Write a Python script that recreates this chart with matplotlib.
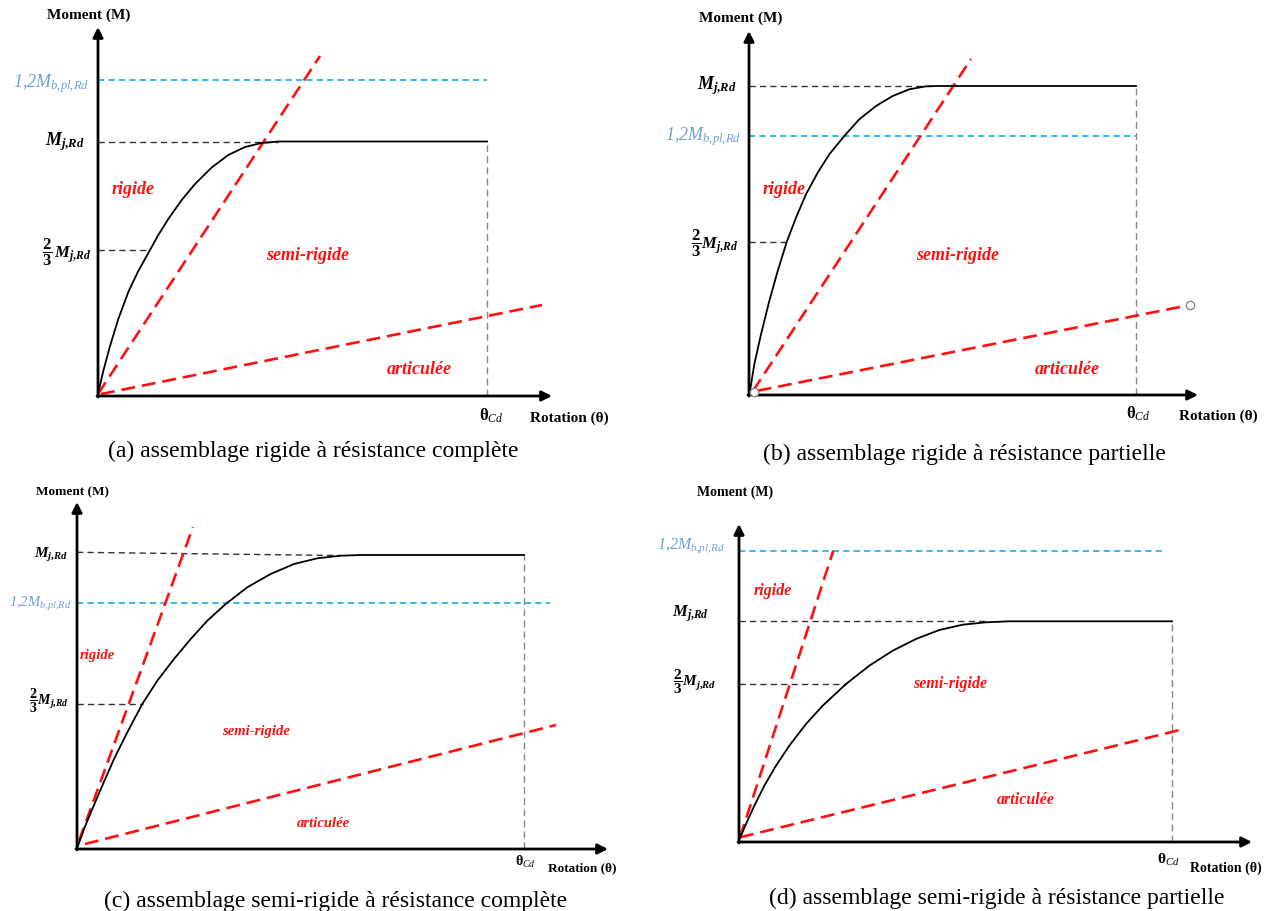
import matplotlib
matplotlib.use("Agg")
import matplotlib.pyplot as plt

plt.rcParams['mathtext.fontset'] = 'custom'
plt.rcParams['mathtext.rm'] = 'Liberation Serif:bold'
plt.rcParams['mathtext.it'] = 'Liberation Serif:bold:italic'
plt.rcParams['mathtext.sf'] = 'Liberation Serif:italic'
plt.rcParams['mathtext.bf'] = 'Liberation Serif:bold'
plt.rcParams['lines.scale_dashes'] = False

W, H = 1273, 912

# ---------------- data (rotation θ, moment M in schematic units) ----------------
# (a) rigid, full strength
a_theta = [0, 5.3, 12, 20.3, 30.3, 40.3, 52, 60.3, 70.3, 83.7, 97, 113.7, 130.3, 147, 163.7, 180.3, 389]
a_M = [2, 25, 50, 77, 104, 125, 146, 161, 177, 196, 212, 228.5, 241, 249, 253, 254.5, 254.5]
a_Mj = [254.5, 254.5]
a_Mj_theta = [0, 180]
a_two3 = 146
a_two3_theta = 52
a_blue = 316
a_blue_theta = 389
a_theta_cd = 389
a_rigid_theta, a_rigid_M = [0, 222], [2, 340]
a_artic_theta, a_artic_M = [3, 444], [2, 91]

# (b) rigid, partial strength
b_theta = [1, 5.3, 12, 20.3, 28.7, 37.7, 47, 57, 68.7, 80.3, 95.3, 110.3, 127, 143.7, 160.3, 177, 187, 387]
b_M = [4, 30.7, 60.7, 94, 124, 153, 177.3, 200.7, 222.3, 240.7, 259, 275.7, 289, 299, 305.7, 308.7, 309, 309]
b_Mj = [309, 309]
b_Mj_theta = [0, 182]
b_two3 = 153
b_two3_theta = 38
b_blue = 259
b_blue_theta = 387
b_theta_cd = 387
b_rigid_theta, b_rigid_M = [4, 222], [4, 336]
b_artic_theta, b_artic_M = [8.6, 441], [4.3, 90]

# (c) semi-rigid, full strength
c_theta = [1, 7, 15.3, 25.3, 37, 50.3, 65.3, 80.3, 97, 113.7, 130.3, 148.7, 170.3, 193.7, 217, 240.3, 263.7, 283.7, 447]
c_M = [3.3, 20, 40, 63.3, 90, 116.7, 145, 168.3, 190, 210, 228.3, 245, 261.7, 275, 285, 290.7, 293.3, 294, 294]
c_Mj = [296.7, 293.5]
c_Mj_theta = [0, 263]
c_two3 = 145
c_two3_theta = 66
c_blue = 246
c_blue_theta = 473
c_theta_cd = 447
c_rigid_theta, c_rigid_M = [2, 116], [8, 322]
c_artic_theta, c_artic_M = [8, 479], [5, 124]

# (d) semi-rigid, partial strength
d_theta = [1, 7, 15.3, 25.3, 37, 50.3, 67, 83.7, 107, 130.3, 153.7, 177, 200.3, 223.7, 247, 270.3, 433]
d_M = [4, 18, 36.3, 56.3, 76.3, 96.3, 118, 136.3, 158, 176.3, 191.3, 203, 212, 217.3, 219.7, 220.7, 220.7]
d_Mj = [220.7, 220.7]
d_Mj_theta = [0, 248]
d_two3 = 158.3
d_two3_theta = 107
d_blue = 291.3
d_blue_theta = 423
d_theta_cd = 433
d_rigid_theta, d_rigid_M = [1, 94.3], [4.7, 291.3]
d_artic_theta, d_artic_M = [1, 442], [4.7, 112.3]

captions = ["(a) assemblage rigide à résistance complète",
            "(b) assemblage rigide à résistance partielle",
            "(c) assemblage semi-rigide à résistance complète",
            "(d) assemblage semi-rigide à résistance partielle"]

# ---------------- layout (pixel origin of each panel, label offsets) ----------------
panels = [
    dict(theta=a_theta, M=a_M, Mj=a_Mj, Mj_theta=a_Mj_theta, two3=a_two3, two3_theta=a_two3_theta,
         blue=a_blue, blue_theta=a_blue_theta, theta_cd=a_theta_cd,
         rigid=(a_rigid_theta, a_rigid_M), artic=(a_artic_theta, a_artic_M), cap=captions[0],
         origin=(98, 397), xend=454, ytop=369, circles=False,
         lab_moment=(-9, 382), lab_rot=(471, -21), lab_tcd=(393, -19),
         lab_blue=(-9, 313), lab_Mj=(-13, 255), lab_two3=(-7, 145),
         lab_rig=(35, 208), lab_semi=(210, 142), lab_art=(321, 27), lab_cap=(215, -54),
         fs_zone=13, fs_lab=13, fs_blue=13, fs_ax=11, two3_tex=r'$\dfrac{2}{3}\,M_{j{,}Rd}$'),
    dict(theta=b_theta, M=b_M, Mj=b_Mj, Mj_theta=b_Mj_theta, two3=b_two3, two3_theta=b_two3_theta,
         blue=b_blue, blue_theta=b_blue_theta, theta_cd=b_theta_cd,
         rigid=(b_rigid_theta, b_rigid_M), artic=(b_artic_theta, b_artic_M), cap=captions[1],
         origin=(749, 396), xend=449, ytop=364, circles=True,
         lab_moment=(-8, 378), lab_rot=(469, -20), lab_tcd=(389, -18),
         lab_blue=(-8, 259), lab_Mj=(-12, 310), lab_two3=(-11, 153),
         lab_rig=(35, 207), lab_semi=(209, 141), lab_art=(318, 27), lab_cap=(215, -58),
         fs_zone=13, fs_lab=13, fs_blue=13, fs_ax=11, two3_tex=r'$\dfrac{2}{3}M_{j{,}Rd}$'),
    dict(theta=c_theta, M=c_M, Mj=c_Mj, Mj_theta=c_Mj_theta, two3=c_two3, two3_theta=c_two3_theta,
         blue=c_blue, blue_theta=c_blue_theta, theta_cd=c_theta_cd,
         rigid=(c_rigid_theta, c_rigid_M), artic=(c_artic_theta, c_artic_M), cap=captions[2],
         origin=(77, 850), xend=531, ytop=347, circles=False,
         lab_moment=(-5, 358), lab_rot=(505, -18), lab_tcd=(448, -12),
         lab_blue=(-6, 246), lab_Mj=(-9, 295), lab_two3=(-8, 149),
         lab_rig=(20, 194), lab_semi=(179, 118), lab_art=(246, 26), lab_cap=(259, -51),
         fs_zone=10.5, fs_lab=11, fs_blue=10.5, fs_ax=9.5, two3_tex=r'$\dfrac{2}{3}M_{j{,}Rd}$'),
    dict(theta=d_theta, M=d_M, Mj=d_Mj, Mj_theta=d_Mj_theta, two3=d_two3, two3_theta=d_two3_theta,
         blue=d_blue, blue_theta=d_blue_theta, theta_cd=d_theta_cd,
         rigid=(d_rigid_theta, d_rigid_M), artic=(d_artic_theta, d_artic_M), cap=captions[3],
         origin=(739, 843), xend=513, ytop=318, circles=False,
         lab_moment=(-4, 351), lab_rot=(487, -25), lab_tcd=(429, -17),
         lab_blue=(-14, 297), lab_Mj=(-30, 229), lab_two3=(-23, 161),
         lab_rig=(34, 252), lab_semi=(211, 159), lab_art=(287, 43), lab_cap=(258, -55),
         fs_zone=11.5, fs_lab=12, fs_blue=11.5, fs_ax=10, two3_tex=r'$\dfrac{2}{3}M_{j{,}Rd}$'),
]

RED = '#ff1010'
BLUE = '#22b4ea'
BLUE_TXT = '#6a9fd8'

fig = plt.figure(figsize=(W / 100, H / 100), dpi=100)
fig.patch.set_facecolor('white')

for p in panels:
    ox, oy = p['origin']
    ax = fig.add_axes([0, 0, 1, 1])
    ax.set_xlim(-ox, W - ox)
    ax.set_ylim(-(H - oy), oy)
    ax.axis('off')
    ax.patch.set_alpha(0)

    # axes with arrows
    ax.annotate('', xy=(p['xend'], 0), xytext=(-1, 0),
                arrowprops=dict(arrowstyle='-|>', lw=2.0, color='black', mutation_scale=15,
                                shrinkA=0, shrinkB=0))
    ax.annotate('', xy=(0, p['ytop']), xytext=(0, -1),
                arrowprops=dict(arrowstyle='-|>', lw=2.0, color='black', mutation_scale=15,
                                shrinkA=0, shrinkB=0))

    # reference lines
    ax.plot([0, p['blue_theta']], [p['blue'], p['blue']], color=BLUE, lw=1.3, dashes=(4.5, 3))
    ax.plot(p['Mj_theta'], p['Mj'], color='#333333', lw=1.0, dashes=(4.5, 3))
    ax.plot([0, p['two3_theta']], [p['two3'], p['two3']], color='#333333', lw=1.0, dashes=(4.5, 3))
    ax.plot([p['theta_cd'], p['theta_cd']], [0, p['M'][-1]], color='#888888', lw=1.0, dashes=(5, 3))

    # red classification lines
    ax.plot(p['rigid'][0], p['rigid'][1], color=RED, lw=1.9, dashes=(10, 5))
    ax.plot(p['artic'][0], p['artic'][1], color=RED, lw=1.9, dashes=(10, 5))
    if p['circles']:
        ax.plot([p['artic'][0][0] - 4, p['artic'][0][1]], [p['artic'][1][0] - 1, p['artic'][1][1]],
                ls='none', marker='o', ms=6, mfc='white', mec='#888888', mew=1.0, zorder=6)

    # moment-rotation curve
    ax.plot(p['theta'], p['M'], color='black', lw=1.3, solid_joinstyle='round')

    # texts
    ax.text(*p['lab_moment'], 'Moment (M)', family='Liberation Serif', weight='bold',
            fontsize=p['fs_ax'], ha='center', va='center')
    ax.text(*p['lab_rot'], 'Rotation (θ)', family='Liberation Serif', weight='bold',
            fontsize=p['fs_ax'], ha='center', va='center')
    ax.text(*p['lab_tcd'], r'$\mathrm{θ}_{\mathsf{Cd}}$', fontsize=p['fs_lab'] - 1,
            ha='center', va='center')
    ax.text(*p['lab_blue'], r'$\mathsf{1{,}2M_{b{,}pl{,}Rd}}$', fontsize=p['fs_blue'],
            color=BLUE_TXT, ha='right', va='center')
    ax.text(*p['lab_Mj'], r'$M_{j{,}Rd}$', fontsize=p['fs_lab'], ha='right', va='center')
    ax.text(*p['lab_two3'], p['two3_tex'], fontsize=p['fs_lab'] - 1, ha='right', va='center')
    ax.text(*p['lab_rig'], 'rigide', family='Liberation Serif', weight='bold', style='italic',
            color=RED, fontsize=p['fs_zone'], ha='center', va='center')
    ax.text(*p['lab_semi'], 'semi-rigide', family='Liberation Serif', weight='bold', style='italic',
            color=RED, fontsize=p['fs_zone'], ha='center', va='center')
    ax.text(*p['lab_art'], 'articulée', family='Liberation Serif', weight='bold', style='italic',
            color=RED, fontsize=p['fs_zone'], ha='center', va='center')
    ax.text(*p['lab_cap'], p['cap'], family='Liberation Serif', fontsize=17,
            ha='center', va='center')

fig.savefig('out.png', dpi=100, facecolor='white')
